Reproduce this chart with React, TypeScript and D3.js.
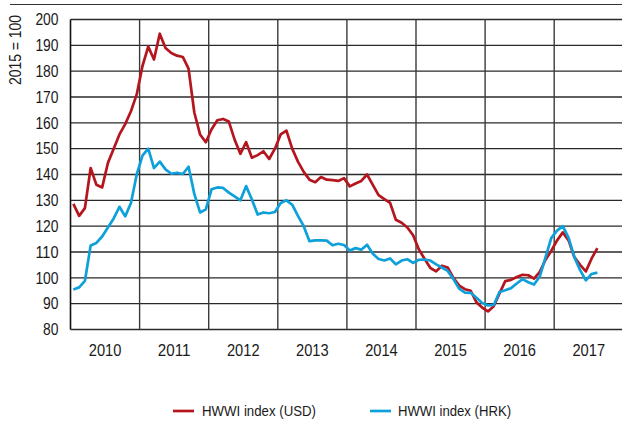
import React from 'react';
import * as d3 from 'd3';

// monthly HWWI index, Jan 2010 - Aug 2017 (2015 = 100)
const startYear = 2010;
const yearLabels = ['2010', '2011', '2012', '2013', '2014', '2015', '2016', '2017'];
const yTicks = [80, 90, 100, 110, 120, 130, 140, 150, 160, 170, 180, 190, 200];

const usd = [
  128.6, 124, 127, 142.5, 136, 135, 144.5, 150, 155.5, 159.5, 164.5, 171,
  182, 189.5, 184.5, 194.5, 189, 187, 186, 185.5, 181, 164, 155.5, 152.5,
  157.5, 161, 161.5, 160.5, 153.5, 148, 152.5, 146.5, 147.5, 149, 146, 150,
  155.5, 157, 150, 145, 141, 138, 137, 139, 138, 137.8, 137.5, 138.6,
  135.4, 136.5, 137.5, 140, 136, 132, 130.5, 129, 122.5, 121.3, 119.5, 116.5,
  111, 107.3, 103.8, 102.5, 104.7, 104, 100, 97, 95.6, 95, 90.5, 88.5,
  87, 89, 94, 98.7, 99.2, 100.3, 101.2, 101, 99.7, 102.3, 107, 110.5,
  114.5, 117.6, 114.5, 108, 105, 102.5, 107.5, 111.5,
];

const hrk = [
  95.5, 96.3, 98.8, 112.5, 113.5, 116, 119.5, 123, 127.5, 123.8, 129, 140,
  147.3, 150, 142.5, 145, 142, 140.3, 140.6, 140.2, 143, 132.5, 125.3, 126.5,
  134.3, 135, 134.8, 133, 131.5, 130, 135.5, 130.3, 124.5, 125.3, 125, 125.5,
  129, 130, 128.3, 124, 120, 114.2, 114.5, 114.5, 114.4, 112.6, 113.2, 112.7,
  110.6, 111.5, 110.9, 112.8, 109.3, 107.3, 106.7, 107.5, 105.2, 106.7, 107.2, 105.8,
  107, 107.1, 106.7, 105.2, 104, 102.7, 99.5, 95.8, 94.3, 94.2, 92.3, 90.3,
  89.3, 89.5, 94.5, 95.2, 96, 97.8, 99.5, 98.3, 97.4, 100.5, 108, 115.5,
  118.3, 120, 115.5, 108, 103, 99, 101.5, 102,
];

const W = 622;
const H = 421;
const FONT = '"Liberation Sans", Arial, sans-serif';
const TXT = '#1a1a1a';
const RED = '#B5161E';
const BLUE = '#0EA0DB';

const App = () => {
  const left = 70.5;
  const top = 19.5;
  const bottom = 329.5;
  const yearW = 69.1;

  const x = d3.scaleLinear()
    .domain([startYear, startYear + yearLabels.length])
    .range([left, left + yearW * yearLabels.length]);
  const y = d3.scaleLinear().domain([80, 200]).range([bottom, top]);

  const line = d3.line<number>()
    .x((_, i) => x(startYear + (i + 0.5) / 12))
    .y((d) => y(d));

  const years = d3.range(yearLabels.length + 1).map((i) => startYear + i);

  // the original uses a condensed face, so squeeze Liberation Sans a bit
  const narrow = { lengthAdjust: 'spacingAndGlyphs' as const };

  return (
    <svg width={W} height={H} style={{ position: 'absolute', left: 0, top: 0, background: '#fff' }}>
      <line x1={10} x2={W} y1={4.5} y2={4.5} stroke="#333" strokeWidth={1.2} />

      {/* horizontal grid */}
      {yTicks.map((t) => (
        <line key={t} x1={left} x2={W} y1={y(t)} y2={y(t)} stroke="#2a2a2a" strokeWidth={t === 80 ? 1.6 : 1.4} />
      ))}
      {/* year separators */}
      {years.slice(1).map((yr) => (
        <line key={yr} x1={x(yr)} x2={x(yr)} y1={top} y2={bottom} stroke="#3a3a3a" strokeWidth={1.4} />
      ))}
      <line x1={left} x2={left} y1={top} y2={bottom} stroke="#111" strokeWidth={1.6} />

      {yTicks.map((t) => (
        <text
          key={t}
          x={58.5 - String(t).length * 7.7}
          y={y(t)}
          dy="0.36em"
          fontFamily={FONT}
          fontSize={16}
          fill={TXT}
          textLength={String(t).length * 7.7}
          {...narrow}
        >
          {t}
        </text>
      ))}
      <text
        transform="translate(20.5,85) rotate(-90)"
        fontFamily={FONT}
        fontSize={16}
        fill={TXT}
        textLength={70}
        {...narrow}
      >
        2015 = 100
      </text>

      {yearLabels.map((lbl, i) => (
        <text
          key={lbl}
          x={x(startYear + i + 0.5) - 16.3}
          y={355.5}
          fontFamily={FONT}
          fontSize={16}
          fill={TXT}
          textLength={32.6}
          {...narrow}
        >
          {lbl}
        </text>
      ))}

      <path d={line(usd) || ''} fill="none" stroke={RED} strokeWidth={2.7} strokeLinejoin="round" />
      <path d={line(hrk) || ''} fill="none" stroke={BLUE} strokeWidth={2.7} strokeLinejoin="round" />

      <line x1={173} x2={194} y1={411} y2={411} stroke={RED} strokeWidth={2.7} />
      <text x={202} y={416} fontFamily={FONT} fontSize={15} fill={TXT} textLength={114} {...narrow}>
        HWWI index (USD)
      </text>
      <line x1={370} x2={391} y1={411} y2={411} stroke={BLUE} strokeWidth={2.7} />
      <text x={398} y={416} fontFamily={FONT} fontSize={15} fill={TXT} textLength={113} {...narrow}>
        HWWI index (HRK)
      </text>
    </svg>
  );
};

export default App;
